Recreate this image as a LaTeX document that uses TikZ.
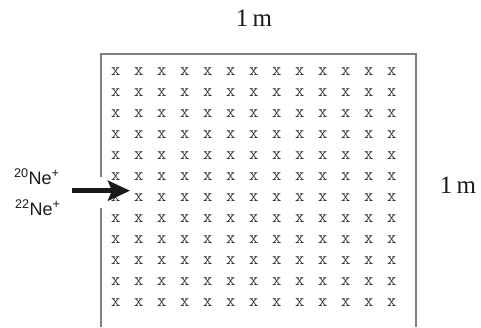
\documentclass[tikz,border=0pt]{standalone}
\usepackage{fontspec}
\setmainfont{Liberation Serif}
\newfontfamily\ionfont{Liberation Sans}
\usetikzlibrary{arrows.meta}
\definecolor{fieldGray}{HTML}{808080}
\definecolor{markGray}{HTML}{383838}
\definecolor{labelBlack}{HTML}{1A1A1A}

\begin{document}
\begin{tikzpicture}[
    x=1pt, y=-1pt,
    sizelabel/.style={font=\fontsize{25}{25}\selectfont, text=labelBlack, inner sep=0pt},
    ionlabel/.style={font=\ionfont\fontsize{18}{18}\selectfont, text=labelBlack, inner sep=0pt, anchor=base west},
    fieldmark/.style={font=\ttfamily\fontsize{18}{18}\selectfont, text=markGray, inner sep=0pt},
    fieldedge/.style={draw=fieldGray, line width=1.5pt},
    beam/.style={-{Stealth[length=22pt, width=20pt, inset=4pt]}, line width=5pt, labelBlack},
]
    \useasboundingbox (0,0) rectangle (481,327);

    \draw[fieldedge] (101,177) -- (101,54) -- (416,54) -- (416,327);
    \draw[fieldedge] (101,208) -- (101,327);

    \foreach \row in {0,...,11}
        \foreach \col in {0,...,12}
            \node[fieldmark] (x\row-\col) at ({115.7+23*\col},{72+21*\row}) {x};

    \node[sizelabel] (width) at (254,18.5) {1\,m};
    \node[sizelabel] (height) at (458,185) {1\,m};

    \node[ionlabel] (ne20) at (14,184) {\textsuperscript{20}Ne\textsuperscript{+}};
    \node[ionlabel] (ne22) at (15,215) {\textsuperscript{22}Ne\textsuperscript{+}};

    \coordinate (beamstart) at (72,190.7);
    \coordinate (beamend) at (130,190.7);
    \draw[beam] (beamstart) -- (beamend);
\end{tikzpicture}
\end{document}
